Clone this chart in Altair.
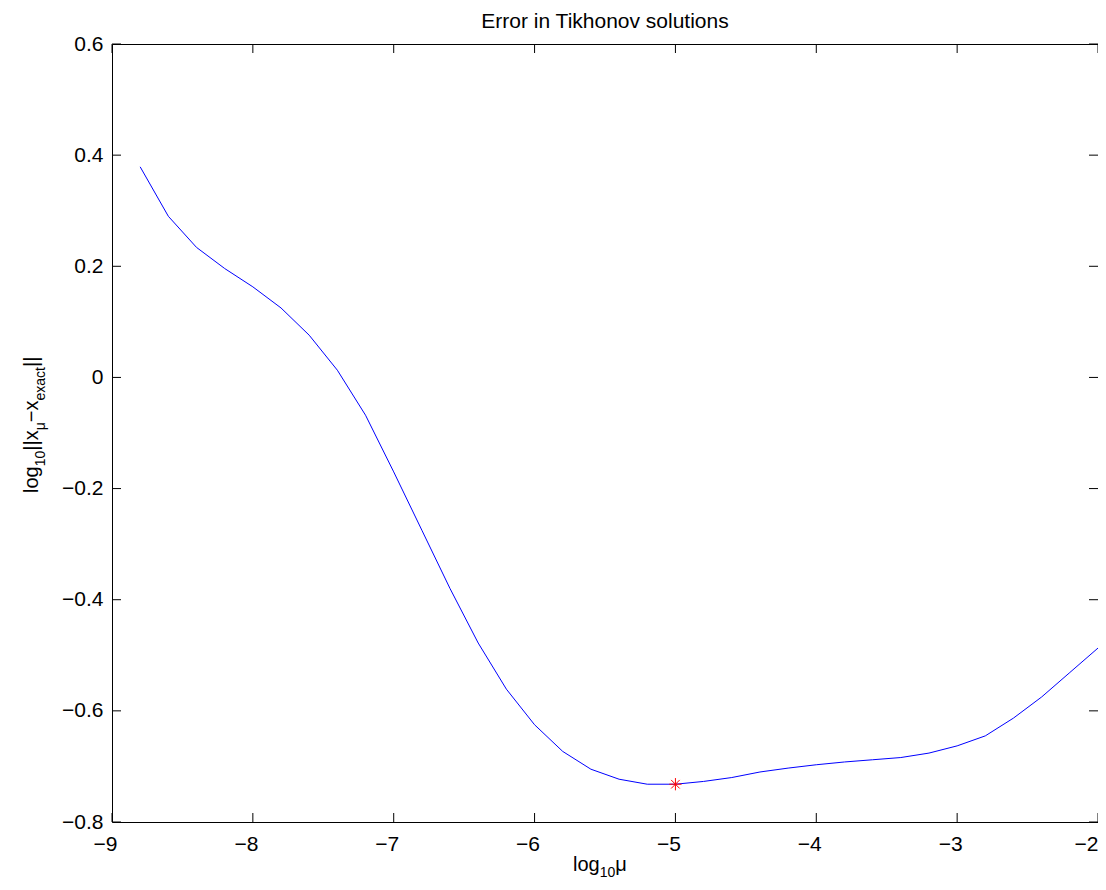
import altair as alt
import pandas as pd

# data
log_mu = [-8.8, -8.6, -8.4, -8.2, -8.0, -7.8, -7.6, -7.4, -7.2, -7.0,
          -6.8, -6.6, -6.4, -6.2, -6.0, -5.8, -5.6, -5.4, -5.2, -5.0,
          -4.8, -4.6, -4.4, -4.2, -4.0, -3.8, -3.6, -3.4, -3.2, -3.0,
          -2.8, -2.6, -2.4, -2.2, -2.0]
log_err = [0.379, 0.290, 0.234, 0.196, 0.163, 0.125, 0.076, 0.013, -0.068, -0.170,
           -0.275, -0.380, -0.478, -0.561, -0.625, -0.673, -0.705, -0.723, -0.732, -0.732,
           -0.727, -0.720, -0.710, -0.703, -0.697, -0.692, -0.688, -0.684, -0.676, -0.663,
           -0.645, -0.613, -0.575, -0.531, -0.487]
best_mu = [-5.0]
best_err = [-0.732]
x_ticks = [-9, -8, -7, -6, -5, -4, -3, -2]
y_ticks = [-0.8, -0.6, -0.4, -0.2, 0.0, 0.2, 0.4, 0.6]

W, H = 986, 778
FONT = "Liberation Sans"
TICK = 9

df = pd.DataFrame({"mu": log_mu, "err": log_err})
df_best = pd.DataFrame({"mu": best_mu, "err": best_err})
df_xt = pd.DataFrame({"mu": x_ticks})
df_yt = pd.DataFrame({"err": y_ticks})

xscale = alt.Scale(domain=[-9, -2], nice=False, zero=False)
yscale = alt.Scale(domain=[-0.8, 0.6], nice=False, zero=False)

xaxis = alt.Axis(values=x_ticks, format="~g", ticks=False, tickSize=0, domain=False,
                 grid=False, labelFontSize=21, labelFont=FONT, labelColor="black",
                 labelPadding=11,
                 labelOffset={"condition": {"test": "datum.value == -2", "value": -12},
                              "value": -7},
                 labelFlush=False, title=None)
yaxis = alt.Axis(values=y_ticks, format="~g", ticks=False, tickSize=0, domain=False,
                 grid=False, labelFontSize=21, labelFont=FONT, labelColor="black",
                 labelPadding=9, labelFlush=False, title=None)

line = alt.Chart(df).mark_line(color="#0000ff", strokeWidth=1).encode(
    x=alt.X("mu:Q", scale=xscale, axis=xaxis),
    y=alt.Y("err:Q", scale=yscale, axis=yaxis),
)

star_path = "M-1,0L1,0M0,-1L0,1M-0.7,-0.7L0.7,0.7M-0.7,0.7L0.7,-0.7"
star = alt.Chart(df_best).mark_point(shape=star_path, size=150, color="#ff0000",
                                      filled=False, strokeWidth=1, opacity=1).encode(
    x=alt.X("mu:Q", scale=xscale),
    y=alt.Y("err:Q", scale=yscale),
)

tick_style = dict(color="black", strokeWidth=1)
xt_bottom = alt.Chart(df_xt).mark_rule(**tick_style).encode(
    x=alt.X("mu:Q", scale=xscale), y=alt.value(H), y2=alt.value(H - TICK))
xt_top = alt.Chart(df_xt).mark_rule(**tick_style).encode(
    x=alt.X("mu:Q", scale=xscale), y=alt.value(0), y2=alt.value(TICK))
yt_left = alt.Chart(df_yt).mark_rule(**tick_style).encode(
    y=alt.Y("err:Q", scale=yscale), x=alt.value(0), x2=alt.value(TICK))
yt_right = alt.Chart(df_yt).mark_rule(**tick_style).encode(
    y=alt.Y("err:Q", scale=yscale), x=alt.value(W - TICK), x2=alt.value(W))

one = alt.Data(values=[{"k": 1}])


def txt(s, x, y, size, dx=0, dy=0, angle=0, align="left"):
    return alt.Chart(one).mark_text(
        text=s, font=FONT, fontSize=size, color="black", align=align,
        baseline="alphabetic", dx=dx, dy=dy, angle=angle,
    ).encode(x=alt.value(x), y=alt.value(y))


MAIN, SUB, SDY = 20, 14, 7

title = txt("Error in Tikhonov solutions", W / 2, -16.5, 21, align="center")

# x axis title: log10 mu
xt0, yt0 = 461, 827
xtitle = [
    txt("log", xt0, yt0, MAIN, dx=0),
    txt("10", xt0, yt0, SUB, dx=26.7, dy=6),
    txt("\u03bc", xt0, yt0, MAIN, dx=42.3),
]

# y axis title: log10||x_mu - x_exact||
yx0, yy0 = -74, 449
ypieces = [
    ("log", MAIN, 0.0, 0),
    ("10", SUB, 26.7, SDY),
    ("||x", MAIN, 42.3, 0),
    ("\u03bc", SUB, 62.7, SDY),
    ("\u2212x", MAIN, 70.8, 0),
    ("exact", SUB, 92.5, SDY),
    ("||", MAIN, 126.0, 0),
]
ytitle = [txt(s, yx0, yy0, sz, dx=d, dy=sdy, angle=270) for s, sz, d, sdy in ypieces]

chart = alt.layer(
    line, star, xt_bottom, xt_top, yt_left, yt_right, title, *xtitle, *ytitle
).properties(
    width=W, height=H,
    autosize=alt.AutoSizeParams(type="none"),
    padding={"left": 104, "top": 36, "right": 0, "bottom": 60},
).configure(
    background="white",
    view=alt.ViewConfig(stroke="black", strokeWidth=1, fill="white"),
)

chart.save("out.html", embed_options={"renderer": "svg", "actions": False})
